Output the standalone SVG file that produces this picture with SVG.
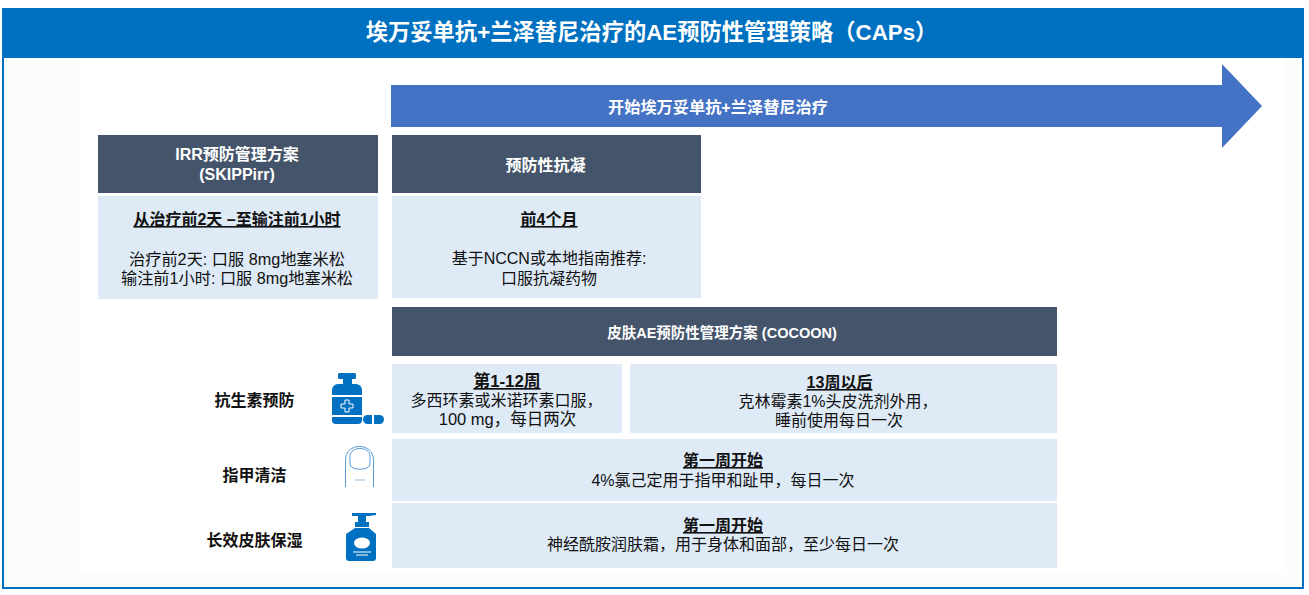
<svg xmlns="http://www.w3.org/2000/svg" width="1309" height="595" viewBox="0 0 1309 595">
<style>
text{font-family:"Liberation Sans","Noto Sans CJK SC",sans-serif;text-anchor:middle;fill:#111}
.h{fill:#44546a}.b{fill:#deeaf6}
.w{fill:#fff;font-weight:700}
.t{font-size:16px}.u{font-size:16px;font-weight:700;text-decoration:underline}
.l{font-size:16px;font-weight:700}
.i{fill:#0070c0}
</style>
<rect width="1309" height="595" fill="#fff"/>
<g id="frame">
<rect x="3" y="57" width="1300" height="531" fill="#fcfcfc" stroke="#0070c0" stroke-width="2"/>
<rect x="80" y="58" width="1205" height="514" fill="#fff"/>
</g>
<g id="title"><rect x="2" y="8" width="1302" height="49" fill="#0070c0"/>
<text x="651.500" y="40" class="w" style="font-size:22.300px">埃万妥单抗+兰泽替尼治疗的AE预防性管理策略（CAPs）</text></g>
<g id="arrow"><path d="M391 85H1222V64L1262 106L1222 148V127H391Z" fill="#4472c4"/>
<text x="718" y="113" class="w" style="font-size:16.200px">开始埃万妥单抗+兰泽替尼治疗</text></g>
<g id="irr-head"><rect class="h" x="98" y="135" width="280" height="58"/>
<text x="237" y="160" class="w" style="font-size:16px">IRR预防管理方案</text><text x="237" y="180" class="w" style="font-size:16px">(SKIPPirr)</text></g>
<g id="irr-body"><rect class="b" x="98" y="196" width="280" height="103"/>
<text x="237" y="225" class="u">从治疗前2天 –至输注前1小时</text>
<text x="237" y="265" class="t" style="font-size:16.200px">治疗前2天: 口服 8mg地塞米松</text><text x="237" y="284" class="t" style="font-size:16.200px">输注前1小时: 口服 8mg地塞米松</text></g>
<g id="anticoag-head"><rect class="h" x="392" y="135" width="309" height="58"/>
<text x="545.500" y="171" class="w" style="font-size:16px">预防性抗凝</text></g>
<g id="anticoag-body"><rect class="b" x="392" y="196" width="309" height="102"/>
<text x="549" y="225" class="u">前4个月</text>
<text x="549" y="264" class="t">基于NCCN或本地指南推荐:</text><text x="549" y="284" class="t">口服抗凝药物</text></g>
<g id="cocoon-head"><rect class="h" x="392" y="307" width="665" height="49"/>
<text x="722" y="338" class="w" style="font-size:14.500px">皮肤AE预防性管理方案 (COCOON)</text></g>
<g id="antibiotic"><text x="254.500" y="406" class="l">抗生素预防</text>
<g class="i"><rect x="338" y="373" width="18" height="6" rx="1.500"/><rect x="343" y="379" width="9" height="5"/>
<path d="M338 384h18a6 6 0 0 1 6 6v5h-30v-5a6 6 0 0 1 6-6z"/><rect x="332" y="397" width="30" height="18"/><path d="M332 417h30v3a4 4 0 0 1-4 4h-22a4 4 0 0 1-4-4z"/>
<path d="M372 415v9h-4.500a4.500 4.500 0 0 1 0-9z"/><path d="M374 415h5.500a4.500 4.500 0 0 1 0 9h-5.500z"/></g>
<path d="M345 400h4v4h4v4h-4v4h-4v-4h-4v-4h4z" fill="none" stroke="#fff" stroke-width="1"/></g>
<rect id="abx-a" class="b" x="392" y="364" width="230" height="69"/>
<rect id="abx-b" class="b" x="630" y="364" width="427" height="69"/>
<g id="abx-text">
<text x="507" y="387" class="u" style="font-size:16.800px">第1-12周</text><text x="506.500" y="406" class="t">多西环素或米诺环素口服，</text><text x="507.500" y="425" class="t" style="font-size:16.500px">100 mg，每日两次</text>
<text x="839.500" y="388" class="u">13周以后</text><text x="838" y="407" class="t">克林霉素1%头皮洗剂外用，</text><text x="839" y="426" class="t">睡前使用每日一次</text></g>
<g id="nail"><text x="254.500" y="481" class="l">指甲清洁</text>
<g fill="none" stroke="#5b9bd5" stroke-width="1"><path d="M345.500 487V460c0-18 28-18 28 0v27"/><path d="M350 464v-8c0-10 20-10 20 0v8c0 7-20 7-20 0z"/><path d="M355 480h10" stroke-width=".7"/></g></g>
<g id="nail-body"><rect class="b" x="392" y="439" width="665" height="62"/>
<text x="723" y="466" class="u">第一周开始</text><text x="723" y="486" class="t">4%氯己定用于指甲和趾甲，每日一次</text></g>
<g id="moisture"><text x="254.500" y="546" class="l">长效皮肤保湿</text>
<g class="i"><path d="M352 513h24v2l-7 1h-3v6h3v5h-14v-5h3v-6h-6z"/><path d="M355 528h14l7 6v24a3 3 0 0 1-3 3h-24a3 3 0 0 1-3-3v-24z"/></g>
<ellipse cx="362" cy="543" rx="8" ry="5.500" fill="#fff"/><path d="M353 552h18M356 555h12" stroke="#fff" stroke-width="1"/></g>
<g id="moisture-body"><rect class="b" x="392" y="503" width="665" height="65"/>
<text x="723" y="531" class="u">第一周开始</text><text x="723" y="550" class="t">神经酰胺润肤霜，用于身体和面部，至少每日一次</text></g>
</svg>
